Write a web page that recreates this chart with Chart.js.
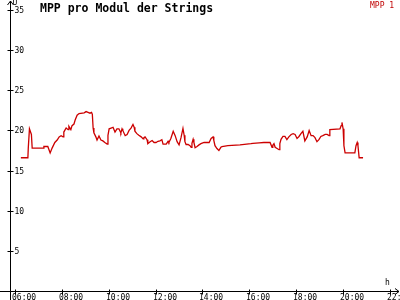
<!DOCTYPE html>
<html>
<head>
<meta charset="utf-8">
<script src="https://cdn.jsdelivr.net/npm/chart.js@4"></script>
<style>
  html, body { margin: 0; padding: 0; background: #fff; }
  #wrap { width: 400px; height: 300px; position: relative; }
</style>
</head>
<body>
<div id="wrap"><canvas id="c"></canvas></div>
<script>
// values
const times = [
  "06:15","06:33","06:34","06:37","06:42","06:44","07:12","07:14","07:24","07:30",
  "07:35","07:42","07:48","07:53","07:58","08:03","08:05","08:11","08:16","08:18",
  "08:23","08:26","08:31","08:34","08:39","08:44","08:57","09:02","09:07","09:12",
  "09:16","09:18","09:20","09:22","09:27","09:30","09:35","09:40","09:45","09:50",
  "09:56","09:58","10:01","10:06","10:11","10:16","10:21","10:26","10:29","10:31",
  "10:34","10:36","10:42","10:47","10:52","10:57","11:02","11:05","11:07","11:12",
  "11:17","11:23","11:28","11:30","11:33","11:38","11:40","11:46","11:51","11:56",
  "12:01","12:06","12:11","12:16","12:19","12:27","12:32","12:34","12:39","12:45",
  "12:50","12:55","13:00","13:05","13:10","13:13","13:15","13:18","13:23","13:28",
  "13:31","13:33","13:36","13:38","13:41","13:46","13:51","13:56","14:04","14:12",
  "14:17","14:22","14:27","14:29","14:32","14:37","14:42","14:47","14:50","15:05",
  "15:36","16:04","16:09","16:25","16:37","16:53","16:58","17:00","17:03","17:06",
  "17:11","17:16","17:18","17:21","17:26","17:31","17:36","17:41","17:47","17:52",
  "17:57","18:02","18:07","18:12","18:17","18:22","18:28","18:33","18:38","18:43",
  "18:48","18:53","18:58","19:03","19:08","19:14","19:19","19:24","19:26","19:52",
  "19:55","19:57","20:00","20:02","20:05","20:30","20:33","20:36","20:38","20:41",
  "20:51"
];
const mpp1 = [
  16.6,16.6,17.8,20.2,19.5,17.8,17.8,18.0,18.0,17.2,
  17.8,18.5,18.8,19.2,19.35,19.2,19.8,20.3,20.1,20.5,
  20.1,20.6,20.8,21.3,21.9,22.1,22.2,22.35,22.25,22.15,
  22.25,22.0,20.3,19.7,19.2,18.8,19.3,18.8,18.7,18.5,
  18.3,19.4,20.2,20.3,20.4,19.8,20.2,20.2,19.9,19.7,
  20.2,20.0,19.35,19.5,20.0,20.3,20.75,20.4,19.9,19.6,
  19.4,19.2,18.95,19.1,19.2,18.85,18.35,18.6,18.75,18.5,
  18.5,18.65,18.7,18.85,18.3,18.3,18.65,18.5,19.0,19.9,
  19.35,18.6,18.2,19.1,20.25,19.4,18.6,18.25,18.25,18.1,
  17.9,18.4,18.9,18.5,17.85,18.0,18.2,18.35,18.5,18.5,
  18.5,19.0,19.2,18.75,18.1,17.75,17.5,17.9,18.0,18.1,
  18.2,18.35,18.4,18.45,18.5,18.5,17.9,18.15,18.35,17.9,
  17.75,17.6,18.35,18.9,19.25,19.25,18.85,19.2,19.5,19.6,
  19.5,19.0,19.25,19.6,19.9,18.7,19.2,20.0,19.35,19.35,
  19.1,18.6,18.85,19.25,19.35,19.5,19.5,19.35,20.1,20.2,
  20.6,21.0,20.2,18.1,17.2,17.2,18.1,18.5,18.1,16.6,
  16.6
];
const xTickHours = [6, 8, 10, 12, 14, 16, 18, 20, 22];
const yTickValues = [5, 10, 15, 20, 25, 30, 35];
const seriesName = "MPP 1";
const titleText = "MPP pro Modul der Strings";

const toHours = (t) => { const p = t.split(":"); return +p[0] + p[1] / 60; };
const fmtHour = (h) => String(h).padStart(2, "0") + ":00";

/* ---------- AXES / TEXT PLUGIN ---------- */
const axesPlugin = {
  id: "axes",
  afterDraw(chart) {
    const ctx = chart.ctx;
    const xs = chart.scales.x, ys = chart.scales.y;
    const x0 = Math.round(xs.left) + 0.5;
    const y0 = Math.round(ys.getPixelForValue(0)) + 0.5;
    ctx.save();
    ctx.strokeStyle = "#000";
    ctx.fillStyle = "#000";
    ctx.lineWidth = 1;
    ctx.beginPath();
    ctx.moveTo(x0, 1); ctx.lineTo(x0, 300);
    ctx.moveTo(0, y0); ctx.lineTo(399, y0);
    // arrows
    ctx.moveTo(x0 - 3, 5); ctx.lineTo(x0, 1); ctx.lineTo(x0 + 3, 5);
    ctx.moveTo(395, y0 - 3); ctx.lineTo(399, y0); ctx.lineTo(395, y0 + 3);
    ctx.stroke();

    ctx.font = "8px 'DejaVu Sans Mono'";
    ctx.textAlign = "left";
    ctx.textBaseline = "middle";
    yTickValues.forEach((v) => {
      const py = Math.round(ys.getPixelForValue(v)) + 0.5;
      ctx.beginPath();
      ctx.moveTo(x0 - 3, py); ctx.lineTo(x0 + 3, py);
      ctx.stroke();
      ctx.fillText(String(v), x0 + 4, py + 0.5);
    });
    ctx.textBaseline = "top";
    xTickHours.forEach((h) => {
      const px = Math.round(xs.getPixelForValue(h)) + 0.5;
      ctx.beginPath();
      ctx.moveTo(px, y0 - 2); ctx.lineTo(px, y0 + 3);
      ctx.stroke();
      ctx.fillText(fmtHour(h), px - 3.5, y0 + 2);
    });
    ctx.textBaseline = "alphabetic";
    ctx.fillText("U", x0 + 2, 5);
    ctx.fillText("h", 385, 285);

    ctx.font = "bold 11.5px 'DejaVu Sans Mono'";
    ctx.fillText(titleText, 40, 12);

    ctx.font = "8px 'DejaVu Sans Mono'";
    ctx.fillStyle = "#c00000";
    ctx.fillText(seriesName, 370, 8);
    ctx.restore();
  },
};

new Chart(document.getElementById("c"), {
  type: "line",
  data: {
    datasets: [{
      label: seriesName,
      data: times.map((t, i) => ({ x: toHours(t), y: mpp1[i] })),
      borderColor: "#cc0000",
      borderWidth: 1.3,
      pointRadius: 0,
      tension: 0,
      fill: false,
    }],
  },
  options: {
    responsive: true,
    maintainAspectRatio: false,
    animation: false,
    devicePixelRatio: 1,
    layout: { padding: { left: 10, right: 2, top: 2, bottom: 9 } },
    plugins: { legend: { display: false }, tooltip: { enabled: false } },
    scales: {
      x: { type: "linear", min: 5.787, max: 22.341, display: false },
      y: { type: "linear", min: 0, max: 36, display: false },
    },
  },
  plugins: [axesPlugin],
});
</script>
</body>
</html>
